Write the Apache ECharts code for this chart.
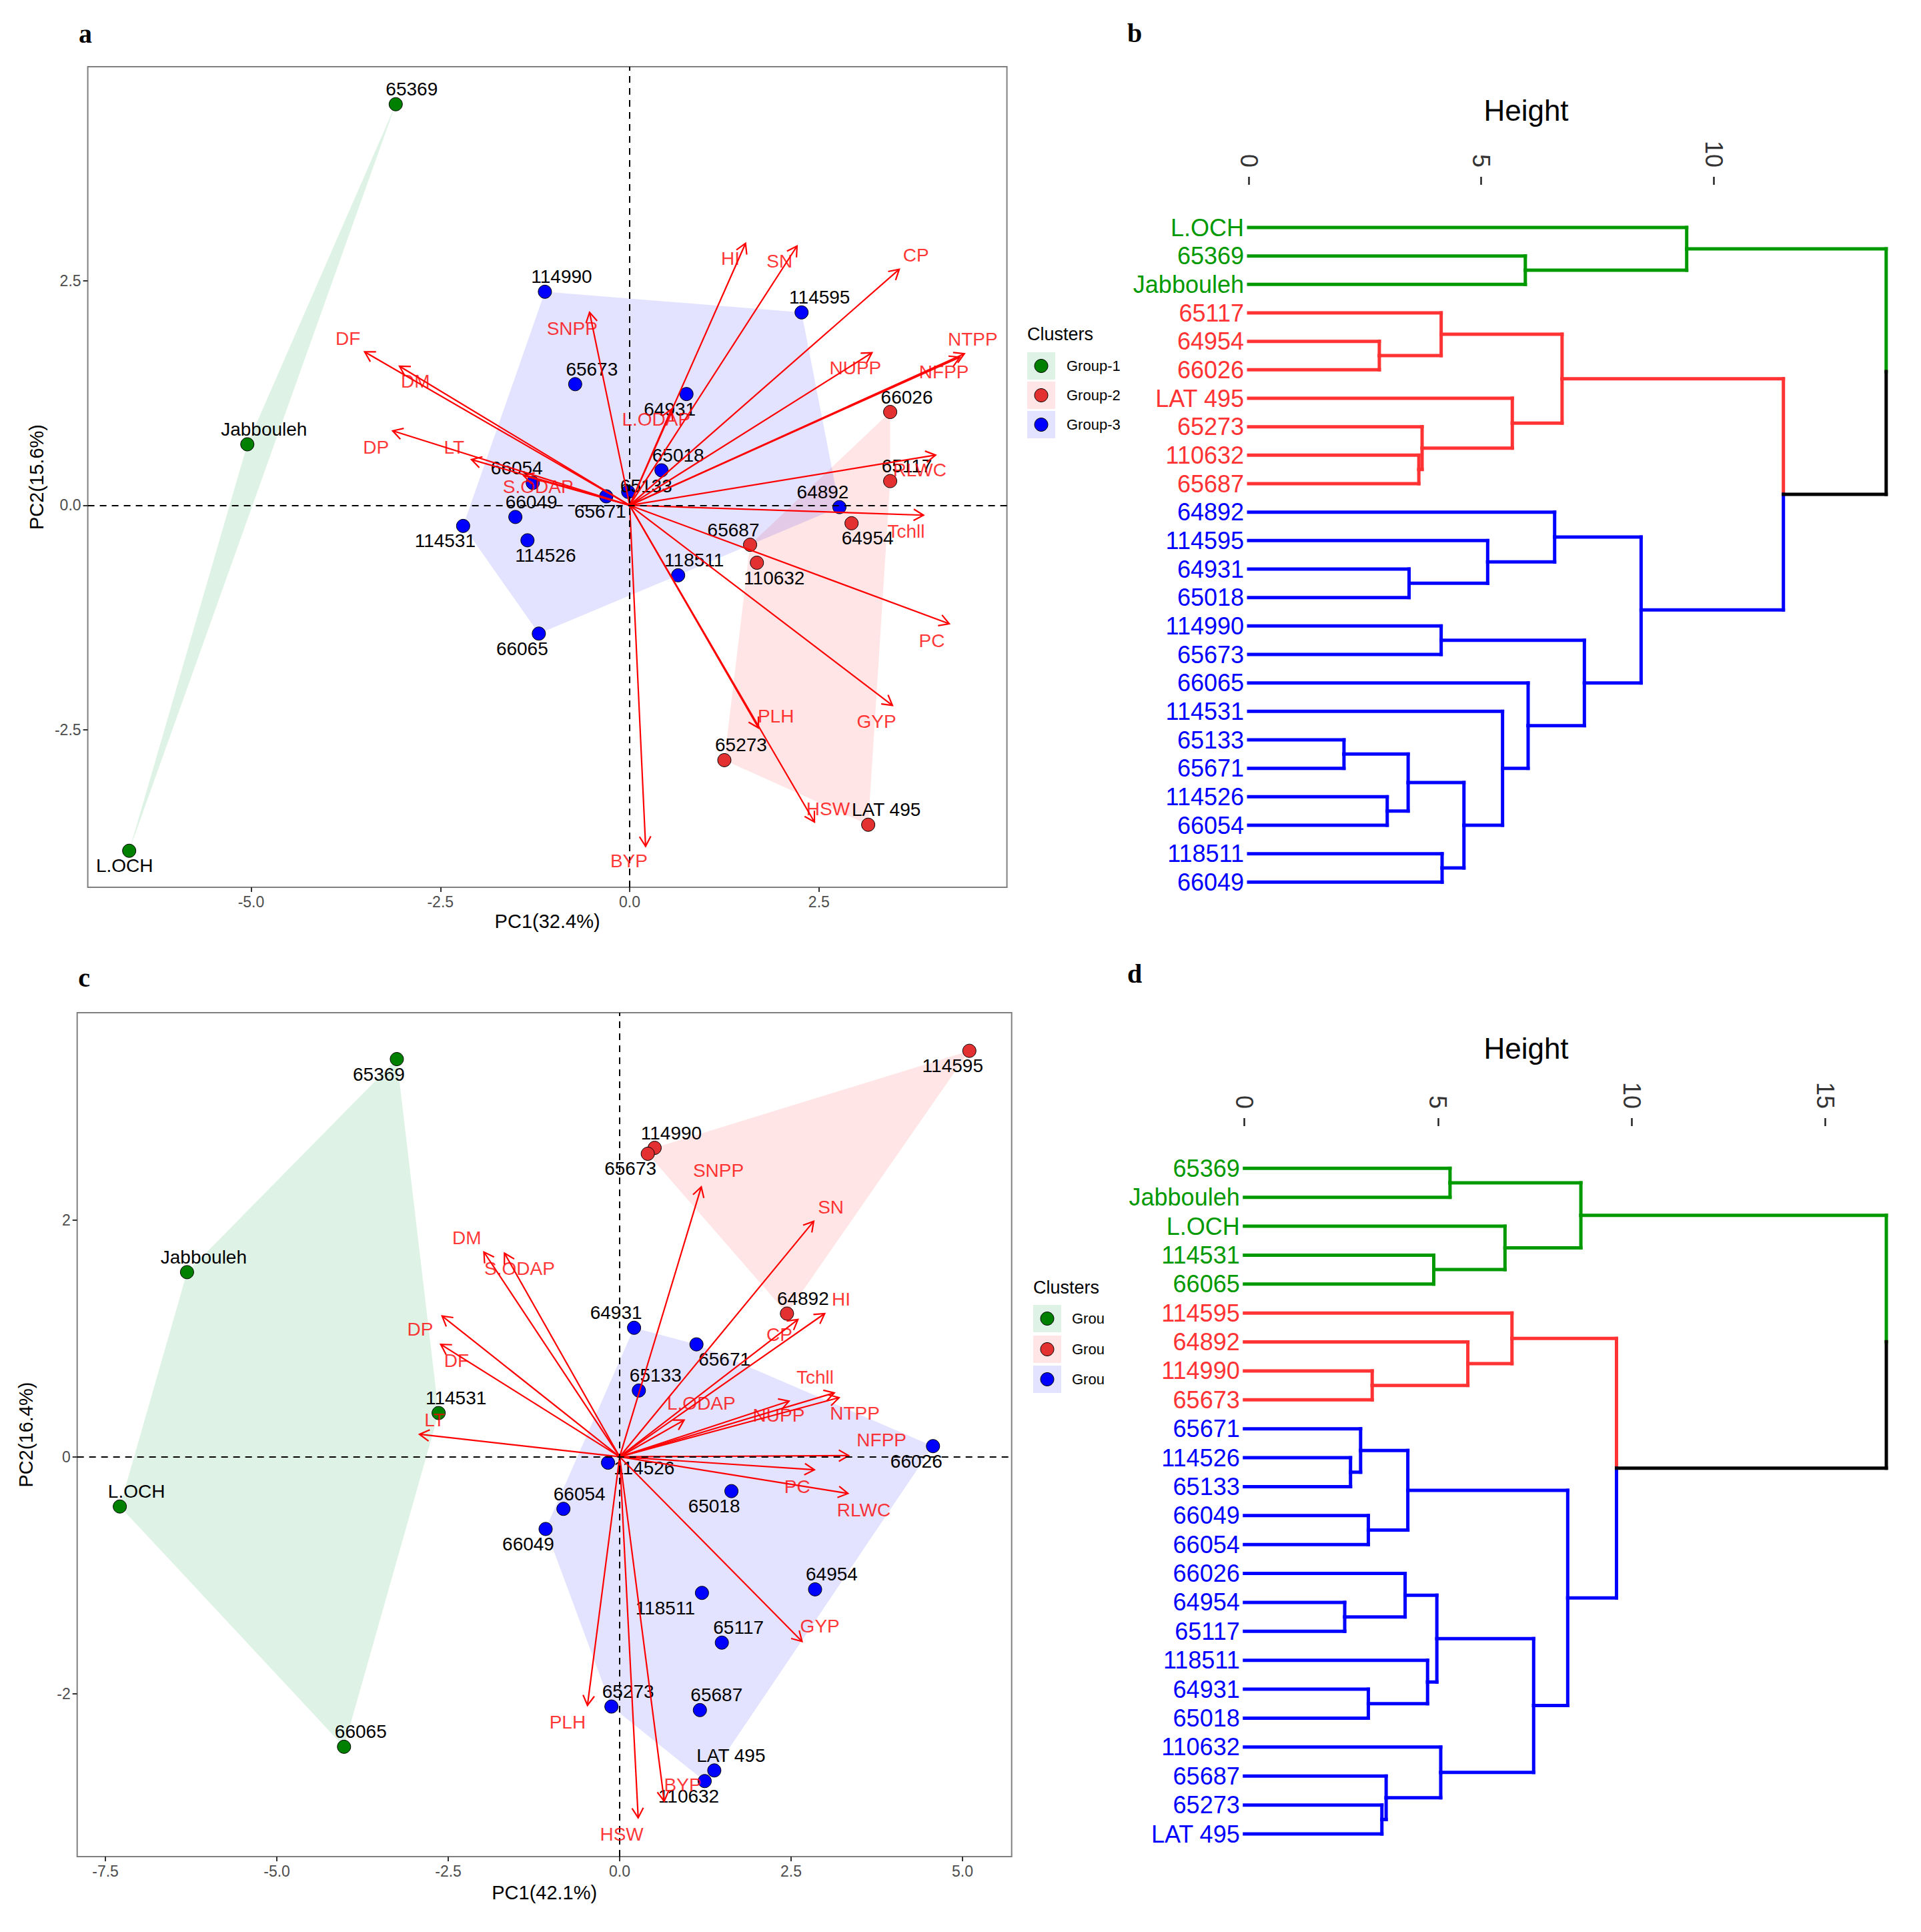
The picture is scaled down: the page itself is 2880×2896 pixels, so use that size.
<!DOCTYPE html>
<html><head><meta charset="utf-8">
<script src="https://cdn.jsdelivr.net/npm/echarts@6/dist/echarts.min.js"></script>
<style>html,body{margin:0;padding:0;background:#fff}#c{width:2880px;height:2896px}</style>
</head><body><div id="c"></div>
<script>
// ================= DATA =================
// Panel a: PCA individuals
const genoA = ['65369','Jabbouleh','L.OCH','114990','65673','64931','65018','65133','65671','66054','66049','114531','114526','66065','118511','114595','64892','66026','65117','64954','65687','110632','65273','LAT 495'];
const pc1A = [-3.09,-5.05,-6.61,-1.12,-0.72,0.75,0.42,-0.02,-0.31,-1.28,-1.51,-2.20,-1.35,-1.20,0.64,2.27,2.77,3.44,3.44,2.93,1.59,1.68,1.25,3.15];
const pc2A = [4.47,0.68,-3.85,2.38,1.35,1.24,0.39,0.15,0.10,0.25,-0.13,-0.23,-0.39,-1.43,-0.78,2.15,-0.02,1.04,0.27,-0.20,-0.44,-0.64,-2.84,-3.56];
const clusterA = [1,1,1,3,3,3,3,3,3,3,3,3,3,3,3,3,3,2,2,2,2,2,2,2];

// Variables (loadings arrows)
const varNames = ['DF','DM','DP','LT','S.ODAP','SNPP','L.ODAP','HI','SN','CP','NUPP','NTPP','NFPP','RLWC','Tchll','PC','GYP','PLH','HSW','BYP'];
const varXA = [-3.50,-3.04,-3.13,-2.09,-1.40,-0.53,0.55,1.53,2.21,3.56,3.20,4.42,4.36,4.04,3.88,4.22,3.47,1.70,2.44,0.21];
const varYA = [1.71,1.55,0.83,0.51,0.33,2.15,1.07,2.92,2.89,2.63,1.70,1.69,1.65,0.56,-0.11,-1.32,-2.23,-2.48,-3.53,-3.80];
const varLabXA = [-3.72,-2.83,-3.35,-2.32,-1.21,-0.76,0.35,1.33,1.98,3.78,2.98,4.53,4.15,3.83,3.65,3.99,3.26,1.93,2.62,-0.01];
const varLabYA = [1.86,1.38,0.65,0.65,0.21,1.97,0.96,2.75,2.72,2.79,1.53,1.85,1.49,0.39,-0.29,-1.51,-2.41,-2.35,-3.38,-3.96];

// Panel c: PCA individuals
const genoC = ['65369','Jabbouleh','114531','L.OCH','66065','66049','66054','114595','114990','65673','64892','64931','65671','65133','66026','114526','65018','64954','118511','65117','65273','65687','LAT 495','110632'];
const pc1C = [-3.25,-6.31,-2.64,-7.29,-4.02,-1.08,-0.82,5.10,0.51,0.41,2.44,0.21,1.12,0.28,4.57,-0.17,1.63,2.85,1.20,1.49,-0.12,1.17,1.38,1.24];
const pc2C = [3.36,1.56,0.37,-0.42,-2.45,-0.61,-0.44,3.43,2.61,2.56,1.21,1.09,0.95,0.56,0.09,-0.05,-0.29,-1.12,-1.15,-1.57,-2.11,-2.14,-2.65,-2.74];
const clusterC = [1,1,1,1,1,3,3,2,2,2,2,3,3,3,3,3,3,3,3,3,3,3,3,3];
const varXC = [-2.61,-1.98,-2.59,-2.92,-1.68,1.19,0.94,2.99,2.83,2.60,2.47,3.20,3.34,3.33,3.13,2.84,2.66,-0.47,0.27,0.65];
const varYC = [0.95,1.73,1.19,0.19,1.72,2.28,0.31,1.21,1.99,1.16,0.47,0.50,0.01,-0.31,0.54,-0.11,-1.56,-2.10,-3.05,-2.91];
const varLabXC = [-2.38,-2.23,-2.91,-2.70,-1.46,1.44,1.19,3.23,3.08,2.33,2.32,3.43,3.82,3.56,2.85,2.59,2.92,-0.76,0.03,0.92];
const varLabYC = [0.81,1.85,1.08,0.31,1.59,2.42,0.45,1.33,2.11,1.03,0.35,0.37,0.14,-0.45,0.67,-0.25,-1.43,-2.24,-3.19,-2.77];

// Panel b: dendrogram (leaf order, cluster, merges [childA, childB, height]; numbers = earlier merge index)
const leavesB = ['L.OCH','65369','Jabbouleh','65117','64954','66026','LAT 495','65273','110632','65687','64892','114595','64931','65018','114990','65673','66065','114531','65133','65671','114526','66054','118511','66049'];
const clusterB = [1,1,1,2,2,2,2,2,2,2,3,3,3,3,3,3,3,3,3,3,3,3,3,3];
const mergesB = [
  ['65369','Jabbouleh',5.95], ['L.OCH',0,9.42],
  ['64954','66026',2.81], ['65117',2,4.14], ['110632','65687',3.66], ['65273',4,3.73], ['LAT 495',5,5.67], [3,6,6.74],
  ['64931','65018',3.45], ['114595',8,5.14], ['64892',9,6.58], ['114990','65673',4.14],
  ['65133','65671',2.05], ['114526','66054',2.98], [12,13,3.43], ['118511','66049',4.16], [14,15,4.63],
  ['114531',16,5.46], ['66065',17,6.01], [11,18,7.22], [10,19,8.44], [7,20,11.5], [1,21,13.71]
];
// Panel d: dendrogram
const leavesD = ['65369','Jabbouleh','L.OCH','114531','66065','114595','64892','114990','65673','65671','114526','65133','66049','66054','66026','64954','65117','118511','64931','65018','110632','65687','65273','LAT 495'];
const clusterD = [1,1,1,1,1,2,2,2,2,3,3,3,3,3,3,3,3,3,3,3,3,3,3,3];
const mergesD = [
  ['65369','Jabbouleh',5.31], ['114531','66065',4.89], ['L.OCH',1,6.73], [0,2,8.69],
  ['114990','65673',3.30], ['64892',4,5.77], ['114595',5,6.91],
  ['114526','65133',2.74], ['65671',7,3.00], ['66049','66054',3.20], [8,9,4.22],
  ['64954','65117',2.59], ['66026',11,4.15], ['64931','65018',3.20], ['118511',13,4.73], [12,14,4.97],
  ['65273','LAT 495',3.55], ['65687',16,3.66], ['110632',17,5.07], [15,18,7.47], [10,19,8.35], [6,20,9.61], [3,21,16.58]
];
const groupNames = ['Group-1','Group-2','Group-3'];

// ================= STYLE =================
const FONT = '"Liberation Sans", Arial, sans-serif';
const DOT = {1:'#008000', 2:'#e33030', 3:'#0000ff'};
const HULL = {1:'rgba(0,160,60,0.13)', 2:'rgba(255,0,0,0.10)', 3:'rgba(0,0,255,0.11)'};
const DEND = ['#000000','#009900','#ff3333','#0000ff'];
// label placement for individual labels: [position, dx, dy]
const labSideA = {'65369':['top',24,0],'Jabbouleh':['top',25,0],'L.OCH':['bottom',-7,0],'114990':['top',25,0],'65673':['top',25,0],
 '64931':['bottom',-25,0],'65018':['top',25,0],'65133':['top',27,14],'65671':['bottom',-9,0],'66054':['top',-24,0],'66049':['top',24,0],
 '114531':['bottom',-27,0],'114526':['bottom',27,0],'66065':['bottom',-25,0],'118511':['top',24,0],'114595':['top',27,0],'64892':['top',-25,0],
 '66026':['top',25,0],'65117':['top',25,0],'64954':['bottom',24,0],'65687':['top',-25,0],'110632':['bottom',26,0],'65273':['top',25,0],'LAT 495':['top',27,0]};
const labSideC = {'65369':['bottom',-27,0],'Jabbouleh':['top',25,0],'114531':['top',26,0],'L.OCH':['top',25,0],'66065':['top',25,0],
 '66049':['bottom',-26,0],'66054':['top',24,0],'114595':['bottom',-25,0],'114990':['top',25,0],'65673':['bottom',-26,0],'64892':['top',24,0],
 '64931':['top',-27,0],'65671':['bottom',42,0],'65133':['top',25,0],'66026':['bottom',-25,0],'114526':['right',0,8],'65018':['bottom',-26,0],
 '64954':['top',25,0],'118511':['bottom',-55,0],'65117':['top',25,0],'65273':['top',25,0],'65687':['top',25,0],'LAT 495':['top',25,0],'110632':['bottom',-24,0]};

// ================= HELPERS =================
function convexHull(pts){
  const p = pts.slice().sort((a,b)=>a[0]-b[0]||a[1]-b[1]);
  if (p.length < 3) return p;
  const cross=(o,a,b)=>(a[0]-o[0])*(b[1]-o[1])-(a[1]-o[1])*(b[0]-o[0]);
  const lo=[], up=[];
  for (const q of p){ while(lo.length>=2&&cross(lo[lo.length-2],lo[lo.length-1],q)<=0) lo.pop(); lo.push(q); }
  for (let i=p.length-1;i>=0;i--){ const q=p[i]; while(up.length>=2&&cross(up[up.length-2],up[up.length-1],q)<=0) up.pop(); up.push(q); }
  up.pop(); lo.pop(); return lo.concat(up);
}

function pcaSeries(gi, geno, xs, ys, cl, sides, vx, vy, lx, ly){
  const S = [];
  [1,2,3].forEach(k=>{
    const pts = geno.map((g,i)=>[xs[i],ys[i],cl[i]]).filter(p=>p[2]===k).map(p=>[p[0],p[1]]);
    const hull = convexHull(pts);
    S.push({type:'custom', xAxisIndex:gi, yAxisIndex:gi, z:1, silent:true, data:hull,
      renderItem:(params, api)=>{ if(params.dataIndex!==0) return null;
        return {type:'polygon', shape:{points:hull.map(p=>api.coord(p))}, style:{fill:HULL[k]}}; }});
  });
  S.push({type:'line', xAxisIndex:gi, yAxisIndex:gi, z:2, data:[], silent:true,
    markLine:{symbol:'none', silent:true, label:{show:false}, animation:false,
      lineStyle:{type:[10,8], color:'#000', width:2}, data:[{xAxis:0},{yAxis:0}]}});
  [1,2,3].forEach(k=>{
    const data=[];
    geno.forEach((g,i)=>{ if(cl[i]!==k) return; const s=sides[g];
      data.push({name:g, value:[xs[i],ys[i]], label:{position:s[0], offset:[s[1],s[2]]}}); });
    S.push({type:'scatter', xAxisIndex:gi, yAxisIndex:gi, z:3, symbolSize:20, data,
      itemStyle:{color:DOT[k], borderColor:'#000', borderWidth:1, opacity:1},
      label:{show:true, formatter:p=>p.name, fontSize:28, color:'#000', fontFamily:FONT, distance:-2}});
  });
  S.push({type:'custom', xAxisIndex:gi, yAxisIndex:gi, z:4, silent:true,
    data: vx.map((x,i)=>[x,vy[i]]),
    renderItem:(params, api)=>{
      const p0=api.coord([0,0]), p1=api.coord([api.value(0),api.value(1)]);
      const a=Math.atan2(p1[1]-p0[1],p1[0]-p0[0]), L=17, th=Math.PI/6;
      const h1=[p1[0]-L*Math.cos(a-th), p1[1]-L*Math.sin(a-th)];
      const h2=[p1[0]-L*Math.cos(a+th), p1[1]-L*Math.sin(a+th)];
      const st={stroke:'#ff0000', lineWidth:2.2, fill:null};
      return {type:'group', children:[
        {type:'line', shape:{x1:p0[0],y1:p0[1],x2:p1[0],y2:p1[1]}, style:st},
        {type:'polyline', shape:{points:[h1,p1,h2]}, style:st}]};
    }});
  S.push({type:'scatter', xAxisIndex:gi, yAxisIndex:gi, z:5, symbolSize:0.01, silent:true,
    itemStyle:{color:'rgba(0,0,0,0)'},
    data: varNames.map((n,i)=>({name:n, value:[lx[i],ly[i]]})),
    label:{show:true, position:'inside', formatter:p=>p.name, fontSize:28, color:'#ff0000', fontFamily:FONT}});
  return S;
}

function dendroSegs(leaves, clusters, merges){
  const info={}; leaves.forEach((n,i)=>info[n]={y:i,h:0,cl:clusters[i]});
  const nodes=[]; const get=c=>typeof c==='number'?nodes[c]:info[c];
  const segs=[];
  merges.forEach(m=>{
    const a=get(m[0]), b=get(m[1]), h=m[2], y=(a.y+b.y)/2, cl=a.cl===b.cl?a.cl:0;
    [a,b].forEach(c=>{ segs.push([h,y,h,c.y,c.cl]); segs.push([h,c.y,c.h,c.y,c.cl]); });
    nodes.push({y,h,cl});
  });
  return segs;
}
function dendroSeries(gi, segs){
  return {type:'custom', xAxisIndex:gi, yAxisIndex:gi, silent:true, clip:false, data:segs,
    encode:{x:[0,2], y:[1,3]},
    renderItem:(params, api)=>{
      const p1=api.coord([api.value(0),api.value(1)]), p2=api.coord([api.value(2),api.value(3)]);
      return {type:'line', shape:{x1:p1[0],y1:p1[1],x2:p2[0],y2:p2[1]},
        style:{stroke:DEND[api.value(4)], lineWidth:5, lineCap:'square'}};
    }};
}

function pcaAxes(gi, xmin,xmax,ymin,ymax,xt,yt,xfmt,yfmt,xname,yname,xgap,ygap){
  const tick={show:true, length:7, lineStyle:{color:'#333', width:2}};
  const lab={color:'#4d4d4d', fontSize:23, fontFamily:FONT, margin:10};
  return [
    {gridIndex:gi, type:'value', min:xmin, max:xmax, splitLine:{show:false}, axisLine:{show:false, onZero:false},
     axisTick:Object.assign({customValues:xt},tick), axisLabel:Object.assign({customValues:xt, formatter:xfmt},lab),
     name:xname, nameLocation:'middle', nameGap:xgap, nameTextStyle:{fontSize:29, color:'#000', fontFamily:FONT}},
    {gridIndex:gi, type:'value', min:ymin, max:ymax, splitLine:{show:false}, axisLine:{show:false, onZero:false},
     axisTick:Object.assign({customValues:yt},tick), axisLabel:Object.assign({customValues:yt, formatter:yfmt},lab),
     name:yname, nameLocation:'middle', nameGap:ygap, nameRotate:90, nameTextStyle:{fontSize:29, color:'#000', fontFamily:FONT}}
  ];
}
// the grid top edge is the Height axis line; yMin leaves room between axis and first leaf
function dendroAxes(gi, leaves, clusters, xmax, xt, yMin){
  const idx = leaves.map((n,i)=>i);
  return [
    {gridIndex:gi, type:'value', position:'top', min:0, max:xmax, splitLine:{show:false},
     axisLine:{show:true, onZero:false, lineStyle:{color:'rgba(0,0,0,0)'}},
     axisTick:{show:true, customValues:xt, length:12, lineStyle:{color:'#222', width:2.5}},
     axisLabel:{customValues:xt, rotate:90, fontSize:36, color:'#333', fontFamily:FONT, margin:26}},
    {gridIndex:gi, type:'value', inverse:true, min:yMin, max:leaves.length-0.5, splitLine:{show:false},
     axisLine:{show:false, onZero:false}, axisTick:{show:false},
     axisLabel:{customValues:idx, margin:7, formatter:v=>'{c'+clusters[v]+'|'+leaves[v]+'}',
       rich:{c1:{color:DEND[1],fontSize:36,fontFamily:FONT}, c2:{color:DEND[2],fontSize:36,fontFamily:FONT}, c3:{color:DEND[3],fontSize:36,fontFamily:FONT}}}}
  ];
}

function txt(x,y,t,font,align,fill){
  return {type:'text', x:x, y:y, z:50, silent:true,
    style:{text:t, font:font, fill:fill||'#000', textAlign:align||'center', textVerticalAlign:'middle', verticalAlign:'middle'}};
}
function legend(x, yTitle, boxTops, labX){
  const g=[txt(x, yTitle, 'Clusters', '27px '+FONT, 'left')];
  [1,2,3].forEach((k,i)=>{
    const t=boxTops[i];
    g.push({type:'rect', z:50, silent:true, shape:{x:x, y:t, width:42, height:41}, style:{fill:HULL[k]}});
    g.push({type:'circle', z:51, silent:true, shape:{cx:x+21, cy:t+20.5, r:10}, style:{fill:DOT[k], stroke:'#000', lineWidth:1}});
    g.push(txt(labX, t+20.5, groupNames[i], '22px '+FONT, 'left'));
  });
  return g;
}

// ================= CHART =================
const chart = echarts.init(document.getElementById('c'), null, {renderer:'svg', width:2880, height:2896});
const xA = pcaAxes(0, -7.157, 4.982, -4.257, 4.888, [-5,-2.5,0,2.5], [-2.5,0,2.5], v=>v.toFixed(1), v=>v.toFixed(1), 'PC1(32.4%)', 'PC2(15.6%)', 36, 62);
const xC = pcaAxes(1, -7.912, 5.717, -3.378, 3.752, [-7.5,-5,-2.5,0,2.5,5], [-2,0,2], v=>v.toFixed(1), v=>String(v), 'PC1(42.1%)', 'PC2(16.4%)', 39, 62);
const dB = dendroAxes(2, leavesB, clusterB, 14, [0,5,10], -1.5);
const dD = dendroAxes(3, leavesD, clusterD, 17, [0,5,10,15], -1.459);

const option = {
  backgroundColor:'#fff',
  animation:false,
  textStyle:{fontFamily:FONT},
  grid:[
    {left:131.6, top:100, width:1378, height:1230, show:true, borderColor:'#7f7f7f', borderWidth:2, backgroundColor:'transparent'},
    {left:115.7, top:1518, width:1401, height:1265, show:true, borderColor:'#7f7f7f', borderWidth:2, backgroundColor:'transparent'},
    {left:1872, top:277, width:976, height:1066.7},
    {left:1865.7, top:1688, width:986.7, height:1082.7}
  ],
  xAxis:[xA[0], xC[0], dB[0], dD[0]],
  yAxis:[xA[1], xC[1], dB[1], dD[1]],
  series:[].concat(
    pcaSeries(0, genoA, pc1A, pc2A, clusterA, labSideA, varXA, varYA, varLabXA, varLabYA),
    pcaSeries(1, genoC, pc1C, pc2C, clusterC, labSideC, varXC, varYC, varLabXC, varLabYC),
    [dendroSeries(2, dendroSegs(leavesB, clusterB, mergesB)), dendroSeries(3, dendroSegs(leavesD, clusterD, mergesD))]
  ),
  graphic:[].concat(
    [txt(128,50,'a','bold 40px "Liberation Serif", serif'), txt(1701,49,'b','bold 40px "Liberation Serif", serif'),
     txt(126,1465,'c','bold 40px "Liberation Serif", serif'), txt(1701,1459,'d','bold 40px "Liberation Serif", serif'),
     txt(2288,165,'Height','44px '+FONT), txt(2288,1571,'Height','44px '+FONT)],
    legend(1540, 501, [528,572,616], 1599),
    legend(1549, 1930, [1956,2002,2047], 1607),
    [{type:'rect', z:60, silent:true, shape:{x:1657, y:1950, width:45, height:145}, style:{fill:'#fff'}}]
  )
};
chart.setOption(option);
</script></body></html>
